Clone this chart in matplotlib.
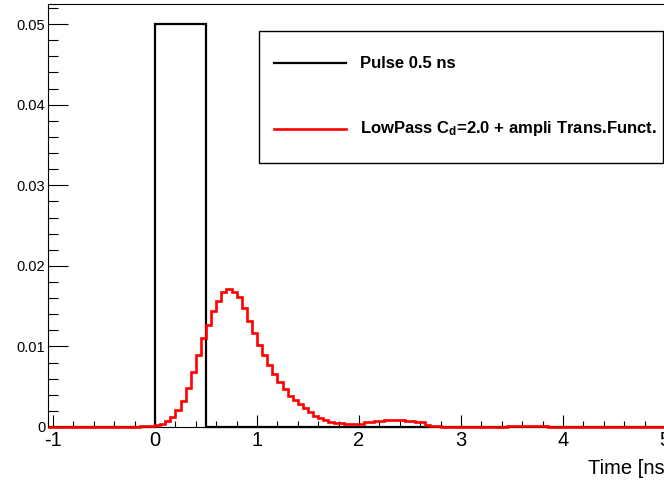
import numpy as np
import matplotlib
matplotlib.use("Agg")
import matplotlib.pyplot as plt
from matplotlib.patches import Rectangle
from matplotlib.lines import Line2D
from matplotlib.ticker import MultipleLocator, FuncFormatter

plt.rcParams['font.family'] = ['Liberation Sans', 'DejaVu Sans']
plt.rcParams['axes.unicode_minus'] = False
plt.rcParams['mathtext.fontset'] = 'custom'
plt.rcParams['mathtext.rm'] = 'Liberation Sans:bold'
plt.rcParams['mathtext.bf'] = 'Liberation Sans:bold'
plt.rcParams['mathtext.it'] = 'Liberation Sans:bold'

# histogram binning (ns)
t_min = -1.05
t_max = 5.05
bin_w = 0.05

# pulse: flat top from 0 to 0.5 ns
pulse_start = 0.0
pulse_stop = 0.5
pulse_height = 0.05

# low-pass + amplifier response, bins starting at t = 0
red_start = 0.0
red_vals = [0.0003, 0.0004, 0.0007, 0.0012, 0.0021, 0.0032, 0.0049, 0.0068, 0.0089, 0.0110,
            0.0127, 0.0144, 0.0157, 0.0168, 0.0171, 0.0168, 0.0161, 0.0148, 0.0132, 0.0117,
            0.0102, 0.0089, 0.0077, 0.0066, 0.0056, 0.0047, 0.0039, 0.0033, 0.0028, 0.0023,
            0.0018, 0.0014, 0.0011, 0.00085, 0.00065, 0.0005, 0.0005, 0.0004, 0.0004, 0.0004,
            0.0004, 0.0006, 0.0006, 0.0008, 0.0008, 0.0009, 0.0009, 0.0009, 0.0009, 0.0008,
            0.0008, 0.0006, 0.0006, 0.00025, 0.0001, 0.0001]
# small pre-pulse and late tails
pre_tail = [(-0.6, -0.15, 0.00005), (-0.15, 0.0, 0.00015)]
late_tail = [(3.45, 3.85, 0.0001)]

x_ticks = [-1, 0, 1, 2, 3, 4, 5]
y_ticks = [0, 0.01, 0.02, 0.03, 0.04, 0.05]

nbins = int(round((t_max - t_min) / bin_w))
edges = t_min + bin_w * np.arange(nbins + 1)
centers = 0.5 * (edges[:-1] + edges[1:])

pulse = np.where((centers > pulse_start) & (centers < pulse_stop), pulse_height, 0.0)

red = np.zeros(nbins)
i0 = int(round((red_start - t_min) / bin_w))
red[i0:i0 + len(red_vals)] = red_vals
for lo, hi, v in pre_tail + late_tail:
    red[(centers > lo) & (centers < hi)] = v

W, H = 664, 480
fig = plt.figure(figsize=(W / 100, H / 100), dpi=100)
ax = fig.add_axes([48 / W, 1 - 427 / H, 622 / W, 423 / H])

ax.stairs(pulse, edges, color='black', linewidth=1.6, clip_on=False, zorder=2)
ax.stairs(red, edges, color='#ff0000', linewidth=1.9, clip_on=False, zorder=3)

ax.set_xlim(t_min, t_max)
ax.set_ylim(0, 0.0525)

ax.set_xticks(x_ticks)
ax.set_yticks(y_ticks)
ax.xaxis.set_minor_locator(MultipleLocator(0.2))
ax.yaxis.set_minor_locator(MultipleLocator(0.002))
ax.yaxis.set_major_formatter(FuncFormatter(lambda v, p: f"{v:g}"))

ax.tick_params(axis='both', which='both', direction='in', top=False, right=False, width=0.8)
ax.tick_params(axis='y', which='major', length=14.5, labelsize=10.5, pad=2)
ax.tick_params(axis='y', which='minor', length=7)
ax.tick_params(axis='x', which='major', length=8.6, labelsize=14.5, pad=3)
ax.tick_params(axis='x', which='minor', length=4.3)
for s in ax.spines.values():
    s.set_linewidth(0.8)

ax.set_xlabel("Time [ns]", fontsize=14.5, loc='right')
ax.xaxis.label.set_va('baseline')
ax.xaxis.set_label_coords(1.0, -47 / 423)

# legend box
def fx(px):
    return px / W

def fy(py):
    return 1 - py / H

fig.patches.append(Rectangle((fx(259), fy(163)), fx(663) - fx(259), fy(31) - fy(163),
                             transform=fig.transFigure, facecolor='white',
                             edgecolor='black', linewidth=1, zorder=5))
entries = [("Pulse 0.5 ns", 'black', 63, 1.6),
           (r"LowPass C$_{\mathrm{d}}$=2.0 + ampli Trans.Funct.", '#ff0000', 129, 1.9)]
for label, color, py, lw in entries:
    fig.lines.append(Line2D([fx(274), fx(346)], [fy(py), fy(py)], transform=fig.transFigure,
                            color=color, linewidth=lw, zorder=6))
    fig.text(fx(360), fy(py), label, fontsize=12, fontweight='bold',
             va='center', ha='left', zorder=6)

fig.savefig("out.png", dpi=100)
